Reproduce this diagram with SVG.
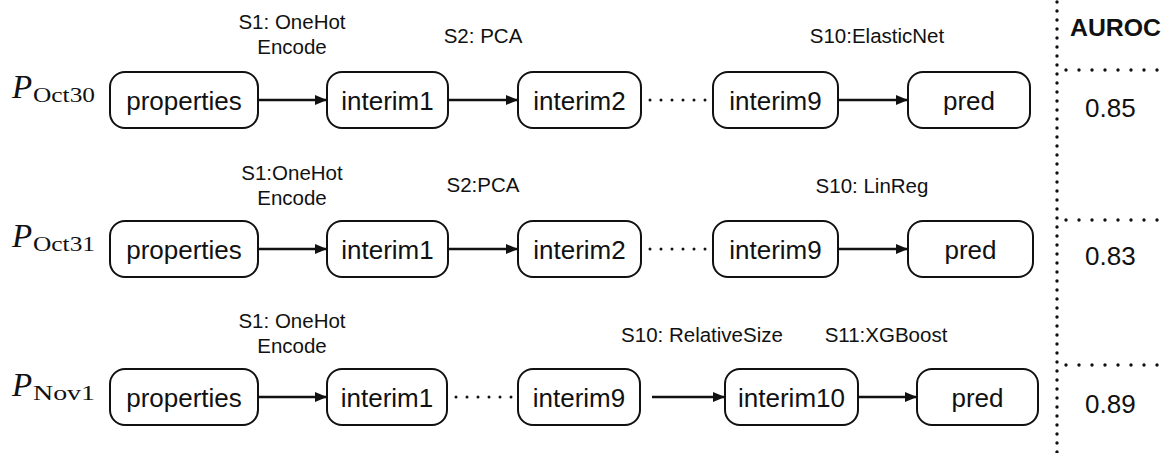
<svg xmlns="http://www.w3.org/2000/svg" width="1170" height="453" viewBox="0 0 1170 453">
  <style>
    .box { fill: #fff; stroke: #111; stroke-width: 2; }
    .node { font-family: "Liberation Sans", Arial, sans-serif; font-size: 26px; fill: #111; text-anchor: middle; }
    .lbl { font-family: "Liberation Sans", Arial, sans-serif; font-size: 20.5px; fill: #111; text-anchor: middle; }
    .edge { stroke: #111; stroke-width: 2.5; fill: none; }
    .gap { stroke: #111; stroke-width: 3; stroke-linecap: round; stroke-dasharray: 0 11; fill: none; }
    .vdots { stroke: #111; stroke-width: 3.4; stroke-linecap: round; stroke-dasharray: 0 9; fill: none; }
    .hdots { stroke: #111; stroke-width: 3.4; stroke-linecap: round; stroke-dasharray: 0 13; fill: none; }
    .pname { font-family: "Liberation Serif", "Times New Roman", serif; fill: #111; }
    .score { font-family: "Liberation Sans", Arial, sans-serif; font-size: 26px; fill: #111; }
  </style>
  <defs>
    <marker id="arrow" viewBox="0 0 12 10" refX="12" refY="5" markerWidth="12" markerHeight="10" markerUnits="userSpaceOnUse" orient="auto">
      <path d="M0,0 L12,5 L0,10 Z" fill="#111"/>
    </marker>
  </defs>
  <rect width="1170" height="453" fill="#fff"/>

  <!-- pipeline names -->
  <g id="name-oct30">
    <text class="pname" x="12" y="98" font-size="33" font-style="italic">P</text>
    <text class="pname" x="33" y="102" font-size="22" textLength="62" lengthAdjust="spacingAndGlyphs">Oct30</text>
  </g>
  <g id="name-oct31">
    <text class="pname" x="12" y="247" font-size="33" font-style="italic">P</text>
    <text class="pname" x="33" y="251" font-size="22" textLength="62" lengthAdjust="spacingAndGlyphs">Oct31</text>
  </g>
  <g id="name-nov1">
    <text class="pname" x="12" y="396" font-size="33" font-style="italic">P</text>
    <text class="pname" x="33" y="400" font-size="22" textLength="62" lengthAdjust="spacingAndGlyphs">Nov1</text>
  </g>

  <!-- step labels -->
  <g id="step-labels">
    <text class="lbl" x="292" y="29">S1: OneHot</text>
    <text class="lbl" x="292" y="54">Encode</text>
    <text class="lbl" x="483" y="43">S2: PCA</text>
    <text class="lbl" x="877" y="43">S10:ElasticNet</text>

    <text class="lbl" x="292" y="180">S1:OneHot</text>
    <text class="lbl" x="292" y="205">Encode</text>
    <text class="lbl" x="483" y="192">S2:PCA</text>
    <text class="lbl" x="872" y="193">S10: LinReg</text>

    <text class="lbl" x="292" y="328">S1: OneHot</text>
    <text class="lbl" x="292" y="353">Encode</text>
    <text class="lbl" x="702" y="342">S10: RelativeSize</text>
    <text class="lbl" x="886" y="342">S11:XGBoost</text>
  </g>

  <!-- connectors -->
  <g id="connectors">
    <path class="edge" d="M258,100 H327" marker-end="url(#arrow)"/>
    <path class="edge" d="M448,100 H518" marker-end="url(#arrow)"/>
    <path class="gap" d="M650,100 H706"/>
    <path class="edge" d="M838,100 H908" marker-end="url(#arrow)"/>

    <path class="edge" d="M258,249 H327" marker-end="url(#arrow)"/>
    <path class="edge" d="M448,249 H518" marker-end="url(#arrow)"/>
    <path class="gap" d="M650,249 H706"/>
    <path class="edge" d="M838,249 H908" marker-end="url(#arrow)"/>

    <path class="edge" d="M258,397 H327" marker-end="url(#arrow)"/>
    <path class="gap" d="M456,397 H512"/>
    <path class="edge" d="M652,397 H725" marker-end="url(#arrow)"/>
    <path class="edge" d="M858,397 H917" marker-end="url(#arrow)"/>
  </g>

  <!-- row 1 nodes -->
  <g id="r1-properties"><rect class="box" x="110" y="72" width="148" height="56" rx="15"/><text class="node" x="184" y="110">properties</text></g>
  <g id="r1-interim1"><rect class="box" x="327" y="72" width="121" height="56" rx="15"/><text class="node" x="387.5" y="110">interim1</text></g>
  <g id="r1-interim2"><rect class="box" x="518" y="72" width="123" height="56" rx="15"/><text class="node" x="579.5" y="110">interim2</text></g>
  <g id="r1-interim9"><rect class="box" x="713" y="72" width="125" height="56" rx="15"/><text class="node" x="775.5" y="110">interim9</text></g>
  <g id="r1-pred"><rect class="box" x="908" y="72" width="122" height="56" rx="15"/><text class="node" x="969" y="110">pred</text></g>

  <!-- row 2 nodes -->
  <g id="r2-properties"><rect class="box" x="110" y="221" width="148" height="56" rx="15"/><text class="node" x="184" y="259">properties</text></g>
  <g id="r2-interim1"><rect class="box" x="327" y="221" width="121" height="56" rx="15"/><text class="node" x="387.5" y="259">interim1</text></g>
  <g id="r2-interim2"><rect class="box" x="518" y="221" width="123" height="56" rx="15"/><text class="node" x="579.5" y="259">interim2</text></g>
  <g id="r2-interim9"><rect class="box" x="713" y="221" width="125" height="56" rx="15"/><text class="node" x="775.5" y="259">interim9</text></g>
  <g id="r2-pred"><rect class="box" x="908" y="221" width="125" height="56" rx="15"/><text class="node" x="970.5" y="259">pred</text></g>

  <!-- row 3 nodes -->
  <g id="r3-properties"><rect class="box" x="110" y="369" width="148" height="56" rx="15"/><text class="node" x="184" y="407">properties</text></g>
  <g id="r3-interim1"><rect class="box" x="327" y="369" width="120" height="56" rx="15"/><text class="node" x="387" y="407">interim1</text></g>
  <g id="r3-interim9"><rect class="box" x="518" y="369" width="122" height="56" rx="15"/><text class="node" x="579" y="407">interim9</text></g>
  <g id="r3-interim10"><rect class="box" x="725" y="369" width="133" height="56" rx="15"/><text class="node" x="791.5" y="407">interim10</text></g>
  <g id="r3-pred"><rect class="box" x="917" y="369" width="121" height="56" rx="15"/><text class="node" x="977.5" y="407">pred</text></g>

  <!-- score column -->
  <g id="auroc-table">
    <path class="vdots" d="M1057,2 V453"/>
    <path class="hdots" d="M1066,70 H1170"/>
    <path class="hdots" d="M1066,220 H1170"/>
    <path class="hdots" d="M1066,365 H1170"/>
    <text x="1070" y="36" font-family="Liberation Sans, Arial, sans-serif" font-size="23" font-weight="bold" fill="#111" textLength="91" lengthAdjust="spacingAndGlyphs">AUROC</text>
    <text class="score" x="1085" y="117">0.85</text>
    <text class="score" x="1085" y="265">0.83</text>
    <text class="score" x="1085" y="413">0.89</text>
  </g>
</svg>
